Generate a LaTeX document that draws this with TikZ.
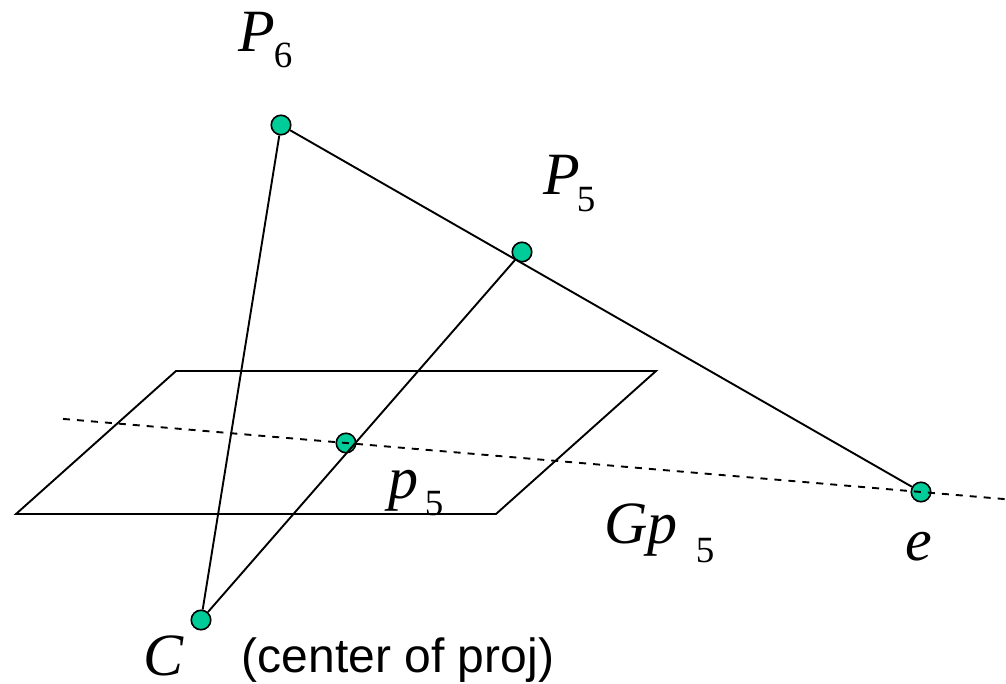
\documentclass[tikz,border=0pt]{standalone}
\usepackage{fontspec}
\setmainfont{Liberation Serif}
\newfontfamily\labelsans{Liberation Sans}
\definecolor{dotgreen}{RGB}{0,204,153}
\begin{document}
\begin{tikzpicture}[x=1pt,y=-1pt,
  pt/.style={circle,draw=black,fill=dotgreen,line width=1.6pt,minimum size=19.5pt,inner sep=0pt},
  ln/.style={line width=1.9pt,black},
  dl/.style={line width=1.9pt,black,dash pattern=on 7pt off 7pt},
  big/.style={inner sep=0pt,anchor=base,font=\fontsize{60}{72}\selectfont\itshape},
  sub/.style={inner sep=0pt,anchor=base,font=\fontsize{37}{44}\selectfont},
  note/.style={inner sep=0pt,anchor=base,font=\labelsans\fontsize{48}{56}\selectfont}]
\useasboundingbox (0,0) rectangle (1006,684);
% plane
\draw[ln,line join=miter] (176,371) -- (656,371) -- (496,514) -- (16,514) -- cycle;
% points
\node[pt] (P6) at (281,125) {};
\node[pt] (P5) at (522,252) {};
\node[pt] (p5) at (346,443) {};
\node[pt] (e) at (921,492) {};
\node[pt] (C) at (201,620) {};
% lines
\draw[ln] (P6) -- (C);
\draw[ln] (P6) -- (e);
\draw[ln] (P5) -- (C);
% dashed line
\coordinate (dlA) at (63,418.9);
\coordinate (dlB) at (1006,499.2);
\draw[dl] (dlA) -- (p5.center) -- (e.center) -- (dlB);
% labels
\node[big] (lP6) at (257,52) {P};
\node[sub] (lP6s) at (283,68) {6};
\node[big] (lP5) at (562,195) {P};
\node[sub] (lP5s) at (586,212) {5};
\node[big] (lp5) at (403,498) {p};
\node[sub] (lp5s) at (434,515) {5};
\node[big] (lGp) at (641,543) {Gp};
\node[sub] (lGps) at (705,562) {5};
\node[big] (le) at (919,560) {e};
\node[big] (lC) at (164,675) {C};
\node[note] (lnote) at (398,672) {(center of proj)};
\end{tikzpicture}
\end{document}
